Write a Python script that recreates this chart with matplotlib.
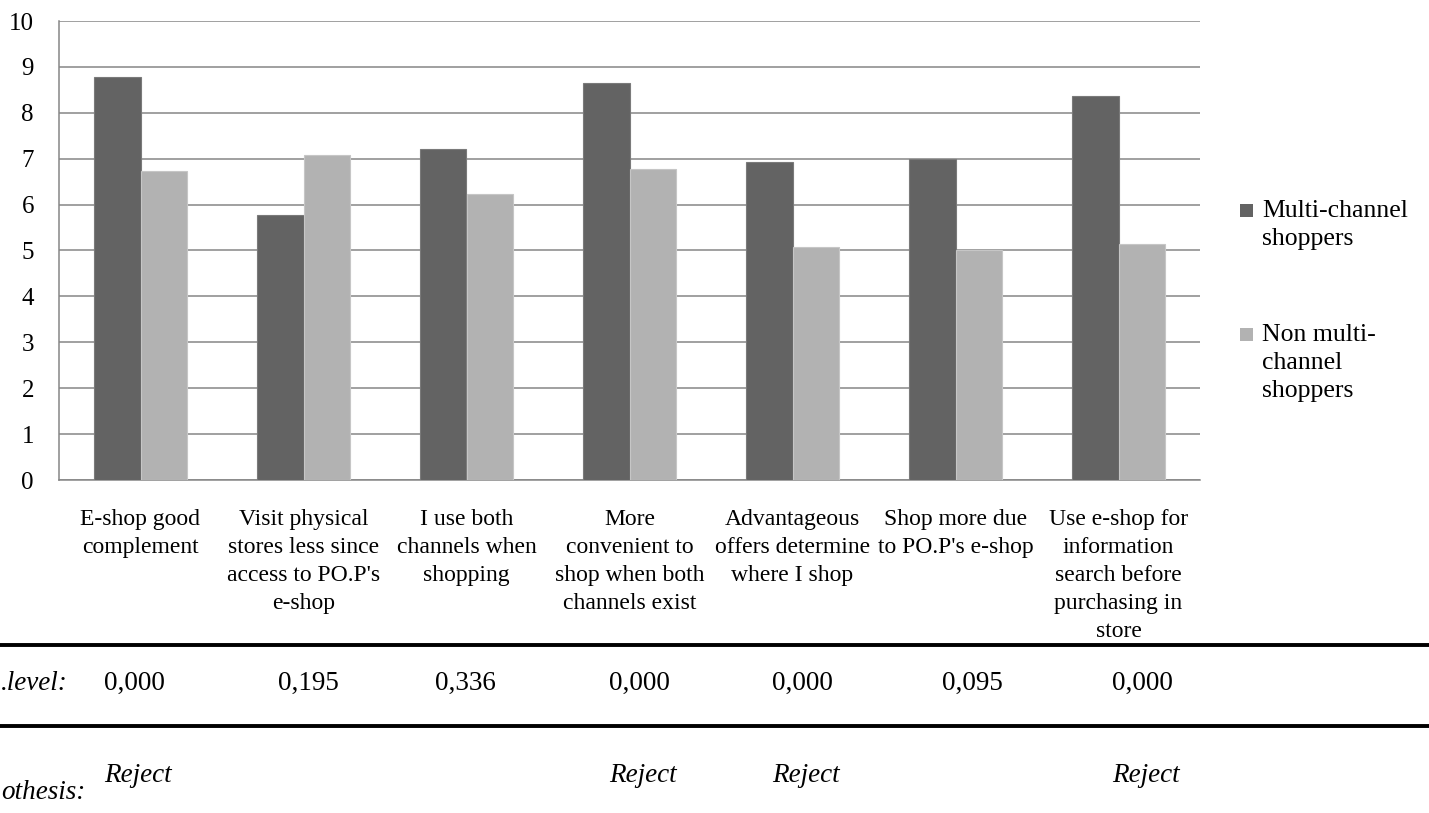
import matplotlib.pyplot as plt
from matplotlib.lines import Line2D
from matplotlib.patches import Rectangle
import numpy as np

plt.rcParams['font.family'] = ['Liberation Serif', 'DejaVu Serif']

categories = [
    "E-shop good\ncomplement",
    "Visit physical\nstores less since\naccess to PO.P's\ne-shop",
    "I use both\nchannels when\nshopping",
    "More\nconvenient to\nshop when both\nchannels exist",
    "Advantageous\noffers determine\nwhere I shop",
    "Shop more due\nto PO.P's e-shop",
    "Use e-shop for\ninformation\nsearch before\npurchasing in\nstore",
]
series_names = ["Multi-channel\nshoppers", "Non multi-\nchannel\nshoppers"]
multi_channel = [8.79, 5.77, 7.21, 8.65, 6.92, 6.99, 8.37]
non_multi_channel = [6.73, 7.07, 6.24, 6.78, 5.07, 5.00, 5.15]
sig_level = ["0,000", "0,195", "0,336", "0,000", "0,000", "0,095", "0,000"]
hypothesis = ["Reject", "", "", "Reject", "Reject", "", "Reject"]
row_labels = [".level:", "othesis:"]

colors = ["#636363", "#b2b2b2"]
edges = ["#7a7a7a", "#c6c6c6"]

W, H = 1429, 813


def fx(px):
    return px / W


def fy(py):
    return 1 - py / H


fig = plt.figure(figsize=(W / 100, H / 100), dpi=100)
ax = fig.add_axes([fx(59), fy(480), fx(1200) - fx(59), fy(21) - fy(480)])

x = np.arange(len(categories))
w = 0.285
for i, vals in enumerate([multi_channel, non_multi_channel]):
    ax.bar(x + (i - 0.5) * w, vals, width=w, color=colors[i],
           edgecolor=edges[i], linewidth=0.8, zorder=3)

ax.set_xlim(-0.5, len(categories) - 0.5)
ax.set_ylim(0, 10)
ax.set_yticks(range(11))
ax.yaxis.grid(True, color="#868686", linewidth=1.1, zorder=0)
ax.set_axisbelow(True)
for side in ["top", "right"]:
    ax.spines[side].set_visible(False)
for side in ["left", "bottom"]:
    ax.spines[side].set_color("#868686")
    ax.spines[side].set_linewidth(1.1)
ax.tick_params(axis="y", length=0, pad=18, labelsize=18)
ax.set_xticks(x)
ax.set_xticklabels(categories, fontsize=17, linespacing=1.43)
ax.tick_params(axis="x", length=0, pad=21)

# legend drawn by hand, one square per series
legend_tops = [204, 328]
for i, name in enumerate(series_names):
    top = legend_tops[i]
    fig.add_artist(Rectangle((fx(1240), fy(top + 13)), fx(13), 13 / H,
                             transform=fig.transFigure, facecolor=colors[i],
                             edgecolor="none"))
    fig.text(fx(1262), fy(top - 4), name, fontsize=18.5, va="top",
             ha="left", linespacing=1.35)

# significance table under the chart
for yline in [645, 726]:
    fig.add_artist(Line2D([0, 1], [fy(yline), fy(yline)],
                          transform=fig.transFigure, color="black",
                          linewidth=2.8))

col_left = [104, 278, 435, 609, 772, 942, 1112]
fig.text(fx(1), fy(683), row_labels[0], fontsize=19.5, style="italic",
         ha="left", va="center")
fig.text(fx(1), fy(792), row_labels[1], fontsize=19.5, style="italic",
         ha="left", va="center")
for xl, s, h in zip(col_left, sig_level, hypothesis):
    fig.text(fx(xl), fy(683), s, fontsize=19.5, ha="left", va="center")
    if h:
        fig.text(fx(xl), fy(775), h, fontsize=19.5, style="italic",
                 ha="left", va="center")

fig.savefig("out.png", dpi=100)
